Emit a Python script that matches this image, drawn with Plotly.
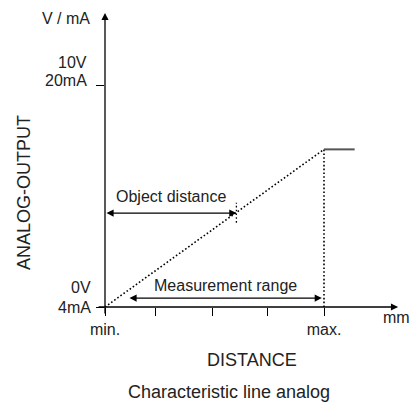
import plotly.graph_objects as go

# distance axis: min = 0, max = 1 ; output axis: 4mA/0V = 0, 20mA/10V = 1
ramp_x = [0, 1]
ramp_y = [0, 0.71]
sat_x = [1, 1.14]
sat_y = [0.71, 0.71]
max_drop_x = [1, 1]
max_drop_y = [0, 0.71]

dist_ticks = [0, 0.23, 0.49, 0.74, 1]
dist_labels = ["min.", "", "", "", "max."]
out_ticks = [0, 1]
out_labels = ["4mA", "20mA"]
volt_labels = ["0V", "10V"]

obj_dist = 0.6
obj_level = 0.423
obj_mark = [0.38, 0.47]
meas_range = [0.105, 0.99]
meas_level = 0.04

FONT = "Arial, Liberation Sans, sans-serif"
DOTS = "1.6px,2.2px"

fig = go.Figure()

fig.add_trace(go.Scatter(x=ramp_x, y=ramp_y, mode="lines",
                         line={"color": "black", "width": 1.6, "dash": DOTS}))
fig.add_trace(go.Scatter(x=max_drop_x, y=max_drop_y, mode="lines",
                         line={"color": "black", "width": 1.6, "dash": DOTS}))
fig.add_trace(go.Scatter(x=sat_x, y=sat_y, mode="lines",
                         line={"color": "#555555", "width": 2}))
fig.add_trace(go.Scatter(x=[obj_dist, obj_dist], y=obj_mark, mode="lines",
                         line={"color": "black", "width": 1.3, "dash": DOTS}))

head = dict(showarrow=True, text="", arrowhead=2, arrowsize=1.1,
            arrowwidth=1.3, arrowcolor="black")

# axes with arrow heads (paper position, tail offset in pixels)
fig.add_annotation(x=0.977, y=0, xref="paper", yref="paper", ax=-301, ay=0, **head)
fig.add_annotation(x=0, y=0.99, xref="paper", yref="paper", ax=0, ay=302, **head)

# object distance / measurement range
fig.add_annotation(x=obj_dist, y=obj_level, ax=0, ay=obj_level, axref="x", ayref="y",
                   arrowside="end+start", **head)
fig.add_annotation(x=meas_range[1], y=meas_level, ax=meas_range[0], ay=meas_level,
                   axref="x", ayref="y", arrowside="end+start", **head)

txt = dict(showarrow=False, font={"family": FONT, "size": 16, "color": "#222"})
fig.add_annotation(x=0.3, y=0.5, text="Object distance", yanchor="middle", **txt)
fig.add_annotation(x=0.55, y=0.095, text="Measurement range", yanchor="middle", **txt)

# output labels left of the y axis: current on the tick, voltage above it
ptxt = dict(xref="paper", yref="paper", xanchor="right", yanchor="middle", **txt)
fig.add_annotation(x=-0.04, y=0.0, text=out_labels[0], **ptxt)
fig.add_annotation(x=-0.04, y=0.064, text=volt_labels[0], **ptxt)
fig.add_annotation(x=-0.053, y=0.761, text=out_labels[1], **ptxt)
fig.add_annotation(x=-0.053, y=0.822, text=volt_labels[1], **ptxt)
fig.add_annotation(x=-0.043, y=0.973, text="V / mA", **ptxt)
fig.add_annotation(x=1.024, y=-0.035, text="mm", xref="paper", yref="paper",
                   xanchor="right", yanchor="middle", showarrow=False,
                   font={"family": FONT, "size": 16, "color": "#222"})

big = dict(showarrow=False, xref="paper", yref="paper", xanchor="center",
           yanchor="middle", font={"family": FONT, "size": 18, "color": "#222"})
fig.add_annotation(x=0.49, y=-0.178, text="DISTANCE", **big)
fig.add_annotation(x=0.413, y=-0.286, text="Characteristic line analog", **big)
fig.add_annotation(x=-0.27, y=0.384, text="ANALOG-OUTPUT", textangle=-90, **big)

axis_style = dict(ticks="outside", ticklen=8, tickwidth=1.2, tickcolor="black",
                  showgrid=False, zeroline=False, showline=False, automargin=False,
                  tickfont={"family": FONT, "size": 16, "color": "#222"})
fig.update_xaxes(range=[0, 300 / 219], tickvals=dist_ticks, ticktext=dist_labels,
                 **axis_style)
fig.update_yaxes(range=[0, 297 / 222], tickvals=out_ticks, ticktext=["", ""],
                 **axis_style)

# page body adds an 8px offset, so the figure is shrunk and margins shifted by that
fig.update_layout(width=409, height=395, showlegend=False,
                  margin={"l": 97, "r": 12, "t": 2, "b": 96},
                  plot_bgcolor="white", paper_bgcolor="white")

fig.write_html("out.html")
